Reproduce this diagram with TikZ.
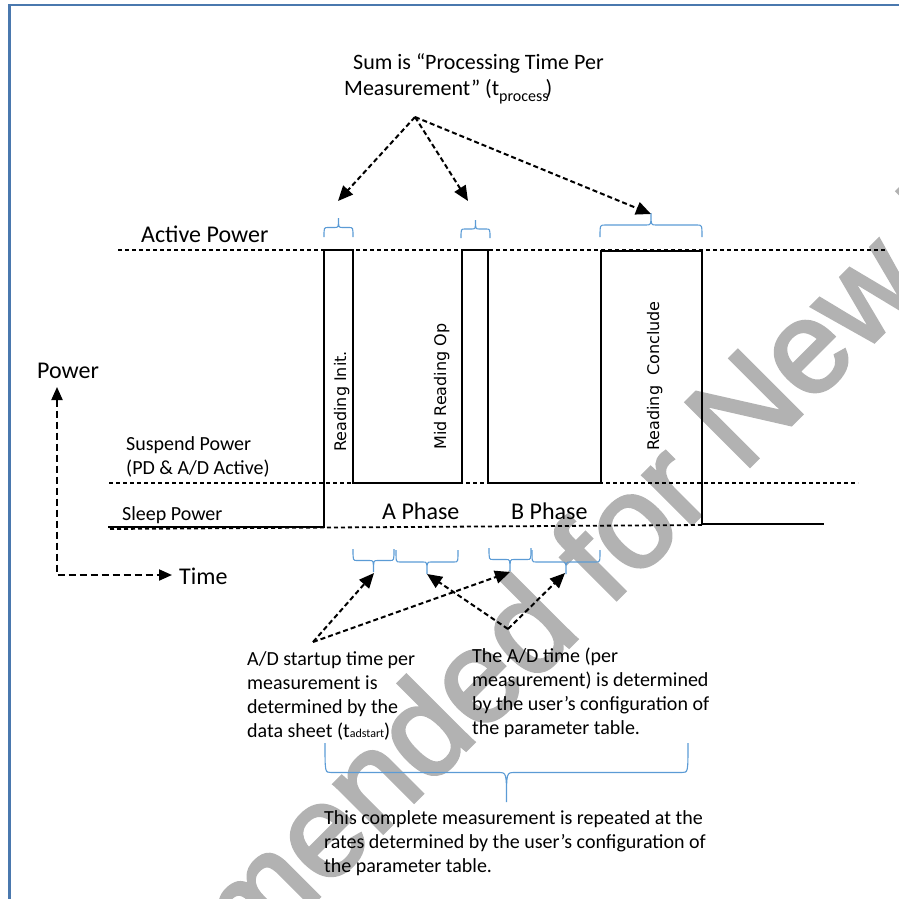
\documentclass[tikz,border=0pt]{standalone}
\usepackage{fontspec}
\setmainfont{Carlito}
\newfontfamily\vfont{DejaVu Sans}
\newfontfamily\wmfont[FakeBold=2.5]{Liberation Sans}
\usetikzlibrary{arrows.meta}
\definecolor{framecol}{HTML}{4A78AE}
\definecolor{bracecol}{HTML}{5B9BD5}
\definecolor{wmcol}{HTML}{B2B2B2}
\tikzset{
 wave/.style={line width=2.4pt, line join=miter},
 level/.style={line width=1.8pt, dash pattern=on 4pt off 3pt},
 arr/.style={line width=2pt, dash pattern=on 5pt off 3pt, -{Triangle[length=15pt,width=13pt]}},
 axis/.style={line width=2pt, dash pattern=on 7pt off 4pt, {Triangle[length=13pt,width=11pt]}-{Triangle[length=13pt,width=11pt]}},
 bracestyle/.style={draw=bracecol, line width=1.1pt},
 lbl/.style={inner sep=0pt, anchor=base west, font=\fontsize{24}{28}\selectfont},
 small/.style={inner sep=0pt, anchor=base west, font=\fontsize{20}{24}\selectfont, align=left},
 vlbl/.style={inner sep=0pt, anchor=base west, rotate=90, font=\vfont\fontsize{16}{19}\selectfont},
 framestyle/.style={draw=framecol, line width=2.4pt},
}
\newcommand{\wbrace}[6]{%
 \draw[bracestyle] (#1,#3) .. controls (#1,{(#3+#4)/2}) .. ({#1+#5},{(#3+#4)/2})
  -- ({(#1+#2)/2-#6},{(#3+#4)/2}) .. controls ({(#1+#2)/2},{(#3+#4)/2}) .. ({(#1+#2)/2},#4)
  .. controls ({(#1+#2)/2},{(#3+#4)/2}) .. ({(#1+#2)/2+#6},{(#3+#4)/2})
  -- ({#2-#5},{(#3+#4)/2}) .. controls (#2,{(#3+#4)/2}) .. (#2,#3);}
\begin{document}
\begin{tikzpicture}[x=1pt,y=-1pt]
\useasboundingbox (0,0) rectangle (899,899);
% watermark
\begin{scope}
\clip (0,0) rectangle (899,899);
\node[inner sep=0pt, anchor=base west, rotate=45, text=wmcol, font=\wmfont\fontsize{131}{131}\selectfont] (wm) at (248,968) {mended for New D};
\end{scope}
% frame
\draw[framestyle] (9.5,899) -- (9.5,5.2) -- (899,5.2);
% level lines
\draw[level] (118,250) -- (886,250);
\draw[level] (109,483) -- (858,483);
\draw[level] (110,529) -- (702,525);
% waveform
\draw[wave] (108,527) -- (324,527) -- (324,250) -- (353,250) -- (353,483) -- (462,483) -- (462,250) -- (488,250) -- (488,483) -- (601,483) -- (601,251) -- (702,251) -- (702,524) -- (824,524);
% braces
\wbrace{324}{353}{237}{218}{4}{4}
\wbrace{461}{490}{238}{220}{4}{4}
\wbrace{600}{702}{237}{213}{5}{5}
\wbrace{353}{394}{549}{572}{4}{4}
\wbrace{396}{458}{550}{574}{4}{4}
\wbrace{489}{531}{548}{571}{4}{4}
\wbrace{532}{600}{550}{574}{4}{4}
\wbrace{325}{688}{743}{802}{6}{8}
% labels
\node[lbl] (active) at (141,242) {Active Power};
\node[lbl] (power) at (37,378) {Power};
\node[lbl] (time) at (179,584) {Time};
\node[lbl] (aph) at (382,519) {A Phase};
\node[lbl] (bph) at (511,519) {B Phase};
\node[small] (susp) at (126,474) {Suspend Power\\(PD \& A/D Active)};
\node[small] (sleep) at (122,520) {Sleep Power};
\node[inner sep=0pt, anchor=base west, font=\fontsize{22}{25}\selectfont, align=left] (sum) at (344,95) {\hspace*{9pt}Sum is “Processing Time Per\\Measurement” (t\raisebox{-6pt}{\fontsize{16}{16}\selectfont process}\kern-3pt)};
\node[small] (adst) at (247,737) {A/D startup time per\\measurement is\\determined by the\\data sheet (t{\fontsize{12}{12}\selectfont adstart})};
\node[small] (adt) at (472,734) {The A/D time (per\\measurement) is determined\\by the user’s configuration of\\the parameter table.};
\node[small] (rep) at (324,872) {This complete measurement is repeated at the\\rates determined by the user’s configuration of\\the parameter table.};
\node[vlbl] (ri) at (346,452) {Reading Init.};
\node[vlbl] (mr) at (446,450) {Mid Reading Op};
\node[vlbl] (rc) at (659,451) {Reading\ \ Conclude};
% axis
\coordinate (pw) at (57,387);
\coordinate (tm) at (172,575);
\draw[axis] (pw) |- (tm);
% arrows top
\coordinate (sumsrc) at (415,117);
\coordinate (e1) at (338,201);
\coordinate (e2) at (468,201);
\coordinate (e3) at (651,214);
\draw[arr] (sumsrc) -- (e1);
\draw[arr] (sumsrc) -- (e2);
\draw[arr] (sumsrc) -- (e3);
% arrows bottom
\coordinate (adsrc) at (313,642);
\coordinate (adtsrc) at (508,629);
\coordinate (f1) at (374,573);
\coordinate (f2) at (427,574);
\coordinate (f3) at (510,572);
\coordinate (f4) at (565,573);
\draw[arr] (adsrc) -- (f1);
\draw[arr] (adsrc) -- (f3);
\draw[arr] (adtsrc) -- (f2);
\draw[arr] (adtsrc) -- (f4);
\end{tikzpicture}
\end{document}
